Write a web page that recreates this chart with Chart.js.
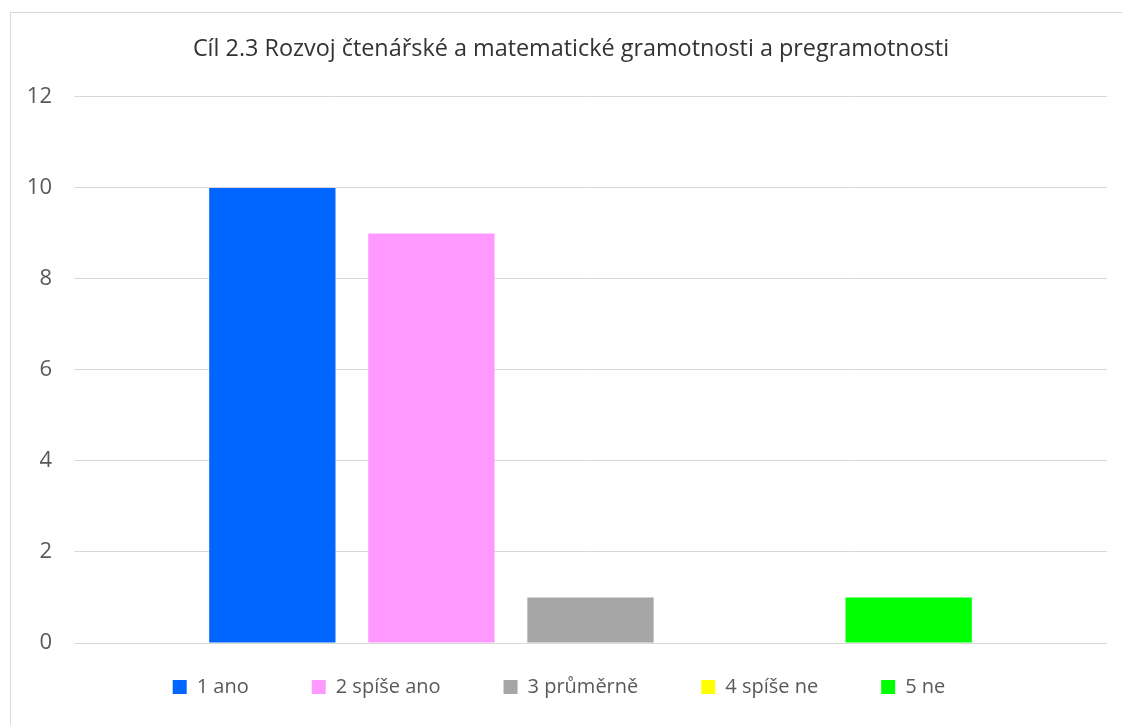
<!DOCTYPE html>
<html>
<head>
<meta charset="utf-8">
<script src="https://cdn.jsdelivr.net/npm/chart.js@4/dist/chart.umd.min.js"></script>
<style>
  html, body { margin: 0; padding: 0; background: #fff; overflow: hidden; }
  #frame {
    position: absolute; left: 10px; top: 12px;
    width: 1112px; height: 713px;
    border-left: 1px solid #d9d9d9;
    border-top: 1px solid #d9d9d9;
  }
  #chart-canvas { display: block; }
</style>
</head>
<body>
<div id="frame"><canvas id="chart-canvas" width="1100" height="703"></canvas></div>
<script>
const chartTitle = 'Cíl 2.3 Rozvoj čtenářské a matematické gramotnosti a pregramotnosti';
const categories = [''];
const seriesNames = ['1 ano', '2 spíše ano', '3 průměrně', '4 spíše ne', '5 ne'];
const seriesValues = [10, 9, 1, 0, 1];
const seriesColors = ['#0066ff', '#ff99ff', '#a6a6a6', '#ffff00', '#00ff00'];
const yTicks = [0, 2, 4, 6, 8, 10, 12];

const fontFamily = '"Open Sans", "Noto Sans", sans-serif';
const textColor = '#595959';

const datasets = seriesNames.map((name, i) => ({
  label: name,
  data: [seriesValues[i]],
  backgroundColor: seriesColors[i],
  borderWidth: 0,
  categoryPercentage: 0.77,
  barPercentage: 0.794
}));

// legend padding is also the gap between items, so keep the box short and lift its top;
// the title sits a little right of centre in the original
const legendPlace = {
  id: 'legendPlace',
  beforeInit(chart) {
    const fit = chart.legend.fit;
    chart.legend.fit = function () { fit.call(this); this.height = 65; };
  },
  afterLayout(chart) {
    chart.legend.top -= 37;
    chart.titleBlock.left += 24;
  }
};

const ctx = document.getElementById('chart-canvas').getContext('2d');
new Chart(ctx, {
  type: 'bar',
  data: { labels: categories, datasets },
  plugins: [legendPlace],
  options: {
    responsive: false,
    animation: false,
    layout: { padding: { left: 0, right: 4, top: 0, bottom: 0 } },
    plugins: {
      title: {
        display: true,
        text: chartTitle,
        color: '#333333',
        font: { family: fontFamily, size: 23.4, weight: 'normal' },
        padding: { top: 22, bottom: 33.9 }
      },
      legend: {
        position: 'bottom',
        labels: {
          color: textColor,
          font: { family: fontFamily, size: 20 },
          boxWidth: 14,
          boxHeight: 14,
          padding: 63
        }
      },
      tooltip: { enabled: false }
    },
    scales: {
      x: {
        grid: { display: false },
        border: { display: false },
        ticks: { display: false }
      },
      y: {
        min: 0,
        max: 12,
        afterBuildTicks: axis => { axis.ticks = yTicks.map(v => ({ value: v })); },
        afterFit: axis => { axis.width = 63; },
        grid: { color: '#d9d9d9', lineWidth: 1, drawTicks: false },
        border: { display: false },
        ticks: {
          color: textColor,
          padding: 22,
          font: { family: fontFamily, size: 22 }
        }
      }
    }
  }
});
</script>
</body>
</html>
